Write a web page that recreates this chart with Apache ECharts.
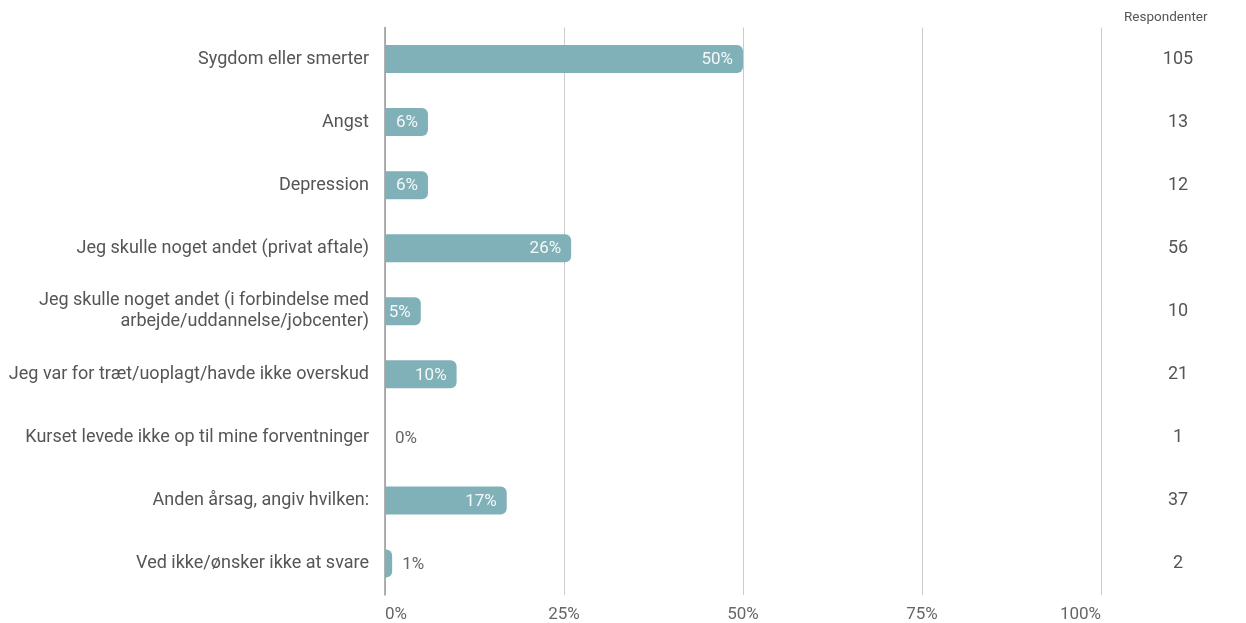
<!DOCTYPE html>
<html>
<head>
<meta charset="utf-8">
<script src="https://cdn.jsdelivr.net/npm/echarts@6/dist/echarts.min.js"></script>
<style>
html,body{margin:0;padding:0;background:#fff;}
#c{width:1246px;height:623px;}
</style>
</head>
<body>
<div id="c"></div>
<script>
var categories = [
  'Sygdom eller smerter',
  'Angst',
  'Depression',
  'Jeg skulle noget andet (privat aftale)',
  'Jeg skulle noget andet (i forbindelse med\narbejde/uddannelse/jobcenter)',
  'Jeg var for træt/uoplagt/havde ikke overskud',
  'Kurset levede ikke op til mine forventninger',
  'Anden årsag, angiv hvilken:',
  'Ved ikke/ønsker ikke at svare'
];
var percents = [50, 6, 6, 26, 5, 10, 0, 17, 1];
var respondents = [105, 13, 12, 56, 10, 21, 1, 37, 2];
var xTicks = [0, 25, 50, 75, 100];
var countHeader = 'Respondenter';

var font = 'Roboto, "Noto Sans", sans-serif';
var seriesData = percents.map(function (v) {
  var inside = v >= 3;
  return {
    value: v,
    label: inside
      ? { position: 'insideRight', distance: 10, color: '#f4f8f9' }
      : { position: 'right', distance: 10, color: '#666666' }
  };
});

var chart = echarts.init(document.getElementById('c'), null, { renderer: 'canvas' });
chart.setOption({
  animation: false,
  backgroundColor: '#ffffff',
  textStyle: { fontFamily: font },
  title: {
    text: countHeader,
    left: 1124,
    top: 11,
    padding: 0,
    textStyle: { fontSize: 13.5, fontWeight: 'normal', color: '#555555', fontFamily: font }
  },
  grid: { left: 385, right: 145, top: 27.5, bottom: 27.5, containLabel: false },
  xAxis: {
    type: 'value',
    min: 0,
    max: 100,
    interval: 25,
    axisLine: { show: false },
    axisTick: { show: false },
    axisLabel: {
      color: '#666666', fontSize: 17, margin: 11, fontFamily: font,
      alignMinLabel: 'left', alignMaxLabel: 'right',
      formatter: function (v) { return xTicks.indexOf(v) >= 0 ? v + '%' : ''; }
    },
    splitLine: { show: true, lineStyle: { color: '#cccccc', width: 1 } }
  },
  yAxis: [{
    type: 'category',
    data: categories,
    inverse: true,
    axisLine: { show: true, lineStyle: { color: '#999999', width: 1.5 } },
    axisTick: { show: false },
    axisLabel: { color: '#555555', fontSize: 18, margin: 16, lineHeight: 21, fontFamily: font, align: 'right' }
  }, {
    type: 'category',
    data: respondents.map(String),
    inverse: true,
    position: 'right',
    axisLine: { show: false },
    axisTick: { show: false },
    axisLabel: { color: '#555555', fontSize: 18, margin: 77, align: 'center', fontFamily: font }
  }],
  series: [{
    type: 'bar',
    data: seriesData,
    barWidth: 28,
    itemStyle: { color: '#80b1b8', borderRadius: [0, 6, 6, 0] },
    label: {
      show: true,
      fontSize: 17,
      fontFamily: font,
      offset: [0, 1],
      formatter: function (p) { return p.value + '%'; }
    }
  }]
});
</script>
</body>
</html>
